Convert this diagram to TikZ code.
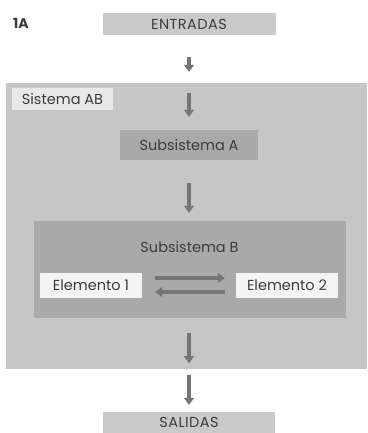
\documentclass[tikz,border=0pt]{standalone}
\usepackage{fontspec}
\setmainfont{Poppins}
\usetikzlibrary{arrows.meta}
\definecolor{txt}{HTML}{3C3C3C}
\definecolor{outerfill}{HTML}{C6C6C6}
\definecolor{iofill}{HTML}{C9C9C9}
\definecolor{subfill}{HTML}{A9A9A9}
\definecolor{tagfill}{HTML}{E8E8E8}
\definecolor{elemfill}{HTML}{F4F4F4}
\definecolor{arrowgray}{HTML}{767676}
\tikzset{
  box/.style={draw=none, inner sep=0pt, text=txt, font=\fontsize{14.5}{16}\selectfont},
  iobox/.style={box, fill=iofill, font=\fontsize{14.5}{16}\selectfont\addfontfeatures{LetterSpace=3}},
  subbox/.style={box, fill=subfill},
  elembox/.style={box, fill=elemfill},
  flow/.style={draw=arrowgray, line width=3.5pt, -{Triangle[width=10pt,length=7pt]}},
}
\begin{document}
\begin{tikzpicture}[x=1pt, y=-1pt]
  \useasboundingbox (0,0) rectangle (367,433);

  % caption tag
  \node[text=txt, font=\fontsize{14}{16}\selectfont\bfseries] (tag) at (21,23) {1A};

  % inputs and outputs
  \node[iobox, minimum width=173pt, minimum height=22pt] (entradas) at (189,24) {ENTRADAS};
  \node[iobox, minimum width=172pt, minimum height=21pt] (salidas) at (189,422.5) {SALIDAS};

  % system AB
  \node[box, fill=outerfill, minimum width=361pt, minimum height=286pt] (sistema) at (186.5,226) {};
  \node[box, fill=tagfill, minimum width=101pt, minimum height=22pt] (sislabel) at (62.5,99) {Sistema AB};

  % subsystem A
  \node[subbox, minimum width=138pt, minimum height=30pt] (subA) at (189,145) {Subsistema A};

  % subsystem B with its two elements
  \node[subbox, minimum width=312pt, minimum height=97pt] (subB) at (190,269.5) {};
  \node[box] (subBlabel) at (189.5,247) {Subsistema B};
  \node[elembox, minimum width=102pt, minimum height=25pt] (e1) at (91,285.5) {Elemento 1};
  \node[elembox, minimum width=102pt, minimum height=25pt] (e2) at (287,285.5) {Elemento 2};

  % vertical flow
  \draw[flow, shorten <=22pt, shorten >=11pt] (entradas.south) -- (entradas.south |- sistema.north);
  \draw[flow, shorten <=10pt, shorten >=13pt] (entradas.south |- sistema.north) -- (subA.north);
  \draw[flow, shorten <=23pt, shorten >=8pt] (subA.south) -- (subA.south |- subB.north);
  \draw[flow, shorten <=15pt, shorten >=6pt] (subA.south |- subB.south) -- (subA.south |- sistema.south);
  \draw[flow, shorten <=6pt, shorten >=7pt] (salidas.north |- sistema.south) -- (salidas.north);

  % exchange between the elements (yshift is measured upwards on the page)
  \draw[flow, shorten <=13pt, shorten >=11pt] ([yshift=7.5pt]e1.east) -- ([yshift=7.5pt]e2.west);
  \draw[flow, shorten <=11pt, shorten >=13pt] ([yshift=-6.5pt]e2.west) -- ([yshift=-6.5pt]e1.east);
\end{tikzpicture}
\end{document}
